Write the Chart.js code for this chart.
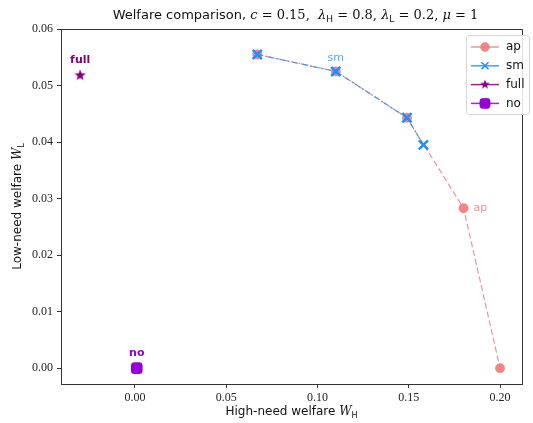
<!DOCTYPE html>
<html>
<head>
<meta charset="utf-8">
<script src="https://cdn.jsdelivr.net/npm/chart.js@4.4.0/dist/chart.umd.min.js"></script>
<style>
  html, body { margin: 0; padding: 0; background: #fff; }
  #wrap { width: 533px; height: 423px; }
</style>
</head>
<body>
<div id="wrap"><canvas id="chart" width="533" height="423"></canvas></div>
<script>
// data
const apX = [0.067, 0.110, 0.149, 0.180, 0.200];
const apY = [0.0555, 0.0525, 0.0443, 0.0283, 0.0000];
const smX = [0.067, 0.110, 0.149, 0.158];
const smY = [0.0555, 0.0525, 0.0443, 0.0395];
const fullX = [-0.030];
const fullY = [0.0518];
const noX = [0.001];
const noY = [0.000];
const seriesNames = ["ap", "sm", "full", "no"];
const xTicks = [0.00, 0.05, 0.10, 0.15, 0.20];
const yTicks = [0.00, 0.01, 0.02, 0.03, 0.04, 0.05, 0.06];

const SANS = '"DejaVu Sans", sans-serif';
const SERIF = '"DejaVu Serif", serif';
const AP = "rgba(240,128,128,1)";
const SM = "rgba(30,144,255,1)";
const FULL = "#800080";
const NO = "#9400d3";

function pts(xs, ys) {
  return xs.map((x, i) => ({ x: x, y: ys[i] }));
}

// matplotlib-like filled star marker
function starImage(color, r) {
  const c = document.createElement("canvas");
  const s = Math.ceil(r * 2 + 2);
  c.width = s; c.height = s;
  const g = c.getContext("2d");
  g.beginPath();
  for (let i = 0; i < 10; i++) {
    const rad = i % 2 === 0 ? r : r * 0.42;
    const a = -Math.PI / 2 + i * Math.PI / 5;
    const px = s / 2 + rad * Math.cos(a), py = s / 2 + rad * Math.sin(a);
    if (i === 0) g.moveTo(px, py); else g.lineTo(px, py);
  }
  g.closePath();
  g.fillStyle = color;
  g.fill();
  return c;
}
const star = starImage(FULL, 6);
const smallStar = starImage(FULL, 5);

// mixed-font text with sub-scripts
function drawRich(ctx, segs, x, y, align) {
  let w = 0;
  segs.forEach(s => { ctx.font = s.f; s.w = ctx.measureText(s.t).width; w += s.w; });
  let cx = align === "center" ? x - w / 2 : x;
  ctx.textBaseline = "alphabetic";
  ctx.textAlign = "left";
  segs.forEach(s => {
    ctx.font = s.f;
    ctx.fillText(s.t, cx, y + (s.dy || 0));
    cx += s.w;
  });
}

const textPlugin = {
  id: "texts",
  afterDraw(chart) {
    const ctx = chart.ctx;
    const a = chart.chartArea;
    ctx.save();
    // frame top + right
    ctx.strokeStyle = "#333";
    ctx.lineWidth = 1;
    ctx.beginPath();
    ctx.moveTo(a.left, a.top + 0.5);
    ctx.lineTo(a.right + 0.5, a.top + 0.5);
    ctx.lineTo(a.right + 0.5, a.bottom);
    ctx.stroke();

    ctx.fillStyle = "#111";
    const mid = (a.left + a.right) / 2;
    drawRich(ctx, [
      { t: "Welfare comparison, ", f: "13px " + SANS },
      { t: "c", f: "italic 13px " + SERIF },
      { t: " = 0.15,  ", f: "13px " + SERIF },
      { t: "λ", f: "italic 13px " + SERIF },
      { t: "H", f: "9px " + SANS, dy: 3 },
      { t: " = 0.8, ", f: "13px " + SERIF },
      { t: "λ", f: "italic 13px " + SERIF },
      { t: "L", f: "9px " + SANS, dy: 3 },
      { t: " = 0.2, ", f: "13px " + SERIF },
      { t: "μ", f: "italic 13px " + SERIF },
      { t: " = 1", f: "13px " + SERIF }
    ], mid + 4, 19, "center");

    drawRich(ctx, [
      { t: "High-need welfare ", f: "12px " + SANS },
      { t: "W", f: "italic 12px " + SERIF },
      { t: "H", f: "8px " + SANS, dy: 3 }
    ], mid, 415, "center");

    ctx.save();
    ctx.translate(21, (a.top + a.bottom) / 2);
    ctx.rotate(-Math.PI / 2);
    drawRich(ctx, [
      { t: "Low-need welfare ", f: "12px " + SANS },
      { t: "W", f: "italic 12px " + SERIF },
      { t: "L", f: "8px " + SANS, dy: 3 }
    ], 0, 0, "center");
    ctx.restore();

    // point annotations
    const ann = [
      { ds: 2, i: 0, t: "full", c: FULL, f: "bold 11px " + SANS, dx: 0, dy: -15, al: "center" },
      { ds: 3, i: 0, t: "no", c: NO, f: "bold 11px " + SANS, dx: 0, dy: -15, al: "center" },
      { ds: 1, i: 1, t: "sm", c: "rgba(30,144,255,0.8)", f: "11px " + SANS, dx: 0, dy: -13, al: "center" },
      { ds: 0, i: 3, t: "ap", c: "rgba(240,128,128,0.85)", f: "11px " + SANS, dx: 10, dy: 0, al: "left" }
    ];
    ann.forEach(n => {
      const el = chart.getDatasetMeta(n.ds).data[n.i];
      ctx.font = n.f;
      ctx.fillStyle = n.c;
      ctx.textAlign = n.al;
      ctx.textBaseline = "middle";
      ctx.fillText(n.t, el.x + n.dx, el.y + n.dy);
    });

    // legend
    const bx = 466, by = 35, bw = 63, bh = 79;
    ctx.beginPath();
    ctx.roundRect(bx + 0.5, by + 0.5, bw, bh, 3);
    ctx.fillStyle = "rgba(255,255,255,0.85)";
    ctx.fill();
    ctx.strokeStyle = "#d6d6d6";
    ctx.lineWidth = 1;
    ctx.stroke();
    const cols = [AP, SM, FULL, NO];
    chart.data.datasets.forEach((d, k) => {
      const yy = by + 12 + k * 18.8;
      ctx.strokeStyle = cols[k];
      ctx.globalAlpha = 0.85;
      ctx.lineWidth = 1.5;
      ctx.setLineDash([]);
      ctx.beginPath();
      ctx.moveTo(bx + 5, yy);
      ctx.lineTo(bx + 33, yy);
      ctx.stroke();
      ctx.globalAlpha = 1;
      if (k === 2) {
        ctx.drawImage(smallStar, bx + 19 - smallStar.width / 2, yy - smallStar.height / 2);
      } else {
        const r = k === 0 ? 4.5 : (k === 1 ? 5 : 6);
        ctx.fillStyle = d.pointBackgroundColor;
        ctx.strokeStyle = d.pointBorderColor;
        ctx.lineWidth = k === 1 ? 1.5 : 0.5;
        Chart.helpers.drawPoint(ctx, {
          pointStyle: d.pointStyle, radius: r, rotation: 0,
          borderWidth: ctx.lineWidth
        }, bx + 19, yy);
      }
      ctx.fillStyle = "#111";
      ctx.font = "12px " + SANS;
      ctx.textAlign = "left";
      ctx.textBaseline = "middle";
      ctx.fillText(d.label, bx + 40, yy);
    });
    ctx.restore();
  }
};

const ctx = document.getElementById("chart");
new Chart(ctx, {
  type: "scatter",
  data: {
    datasets: [
      {
        label: seriesNames[0], data: pts(apX, apY), showLine: true, order: 2,
        borderColor: "rgba(240,128,128,0.85)", borderWidth: 1.2, borderDash: [6, 3],
        pointStyle: "circle", pointRadius: 4.7, pointBorderWidth: 0.5,
        pointBackgroundColor: "rgba(240,128,128,0.95)", pointBorderColor: "rgba(240,128,128,0.95)"
      },
      {
        label: seriesNames[1], data: pts(smX, smY), showLine: true, order: 1,
        borderColor: "rgba(30,144,255,0.8)", borderWidth: 1.2, borderDash: [6, 2, 1.5, 2],
        pointStyle: "crossRot", pointRadius: 6.5, pointBorderWidth: 2.5,
        pointBackgroundColor: SM, pointBorderColor: SM
      },
      {
        label: seriesNames[2], data: pts(fullX, fullY), showLine: false, order: 0,
        pointStyle: star, pointRadius: 6,
        pointBackgroundColor: FULL, pointBorderColor: FULL
      },
      {
        label: seriesNames[3], data: pts(noX, noY), showLine: false, order: 0,
        pointStyle: "rectRounded", pointRadius: 6.8, pointBorderWidth: 0,
        pointBackgroundColor: NO, pointBorderColor: NO
      }
    ]
  },
  options: {
    responsive: false,
    animation: false,
    layout: { padding: { top: 29, right: 11, left: 0, bottom: 0 } },
    plugins: {
      legend: { display: false },
      title: { display: false },
      tooltip: { enabled: false }
    },
    scales: {
      x: {
        type: "linear", min: -0.0405, max: 0.212,
        afterBuildTicks: (s) => { s.ticks = xTicks.map(v => ({ value: v })); },
        afterFit: (s) => { s.height = 39; },
        grid: { drawOnChartArea: false, tickLength: 4, tickColor: "#333" },
        border: { color: "#333", width: 1 },
        ticks: {
          color: "#222", padding: 3, maxRotation: 0,
          font: { family: "Liberation Serif", size: 12 },
          callback: (v) => v.toFixed(2)
        }
      },
      y: {
        type: "linear", min: -0.0028, max: 0.06,
        afterBuildTicks: (s) => { s.ticks = yTicks.map(v => ({ value: v })); },
        afterFit: (s) => { s.width = 61; },
        grid: { drawOnChartArea: false, tickLength: 4, tickColor: "#333" },
        border: { color: "#333", width: 1 },
        ticks: {
          color: "#222", padding: 4,
          font: { family: "Liberation Serif", size: 12 },
          callback: (v) => v.toFixed(2)
        }
      }
    }
  },
  plugins: [textPlugin]
});
</script>
</body>
</html>
